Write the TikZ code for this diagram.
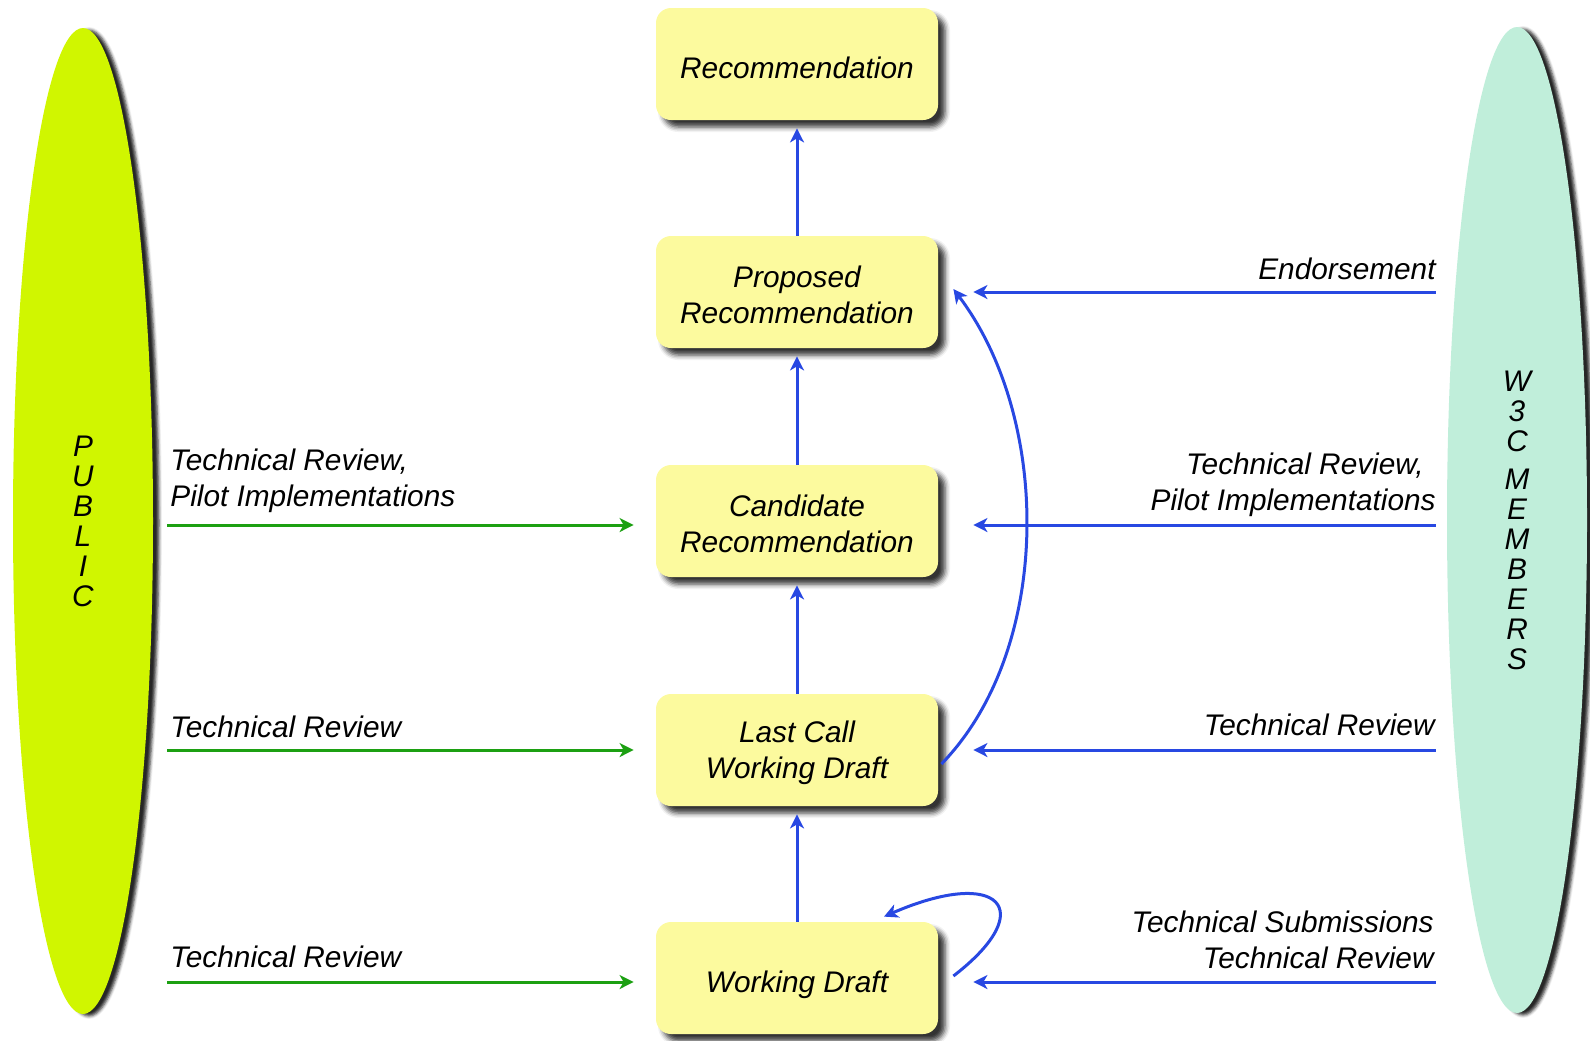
\documentclass[tikz,border=0pt]{standalone}
\usepackage{fontspec}
\setmainfont{Liberation Sans}
\usetikzlibrary{shapes.geometric,shadows.blur,arrows.meta,calc}
\definecolor{boxfill}{RGB}{252,250,158}
\definecolor{pubfill}{RGB}{208,246,0}
\definecolor{memfill}{RGB}{192,238,218}
\definecolor{arrblue}{RGB}{40,72,226}
\definecolor{arrgreen}{RGB}{28,160,18}
\newcommand{\topfix}{\rule{0pt}{13.6pt}}
\begin{document}
\begin{tikzpicture}[x=0.5pt,y=-0.5pt,
  font=\fontsize{14.9}{18}\selectfont\itshape,
  stage/.style={fill=boxfill, rounded corners=7.5pt, minimum width=141pt,
    minimum height=56pt, align=center, inner sep=0pt,
    font=\fontsize{14.9}{18.2}\selectfont\itshape,
    blur shadow={shadow xshift=3.5pt, shadow yshift=-3.5pt,
      shadow blur radius=2.5pt, shadow opacity=80}},
  oneline/.style={text height=14.4pt, text depth=0pt},
  side/.style={ellipse, minimum width=70pt, minimum height=493pt, inner sep=0pt,
    align=center, font=\fontsize{14.9}{15}\selectfont\itshape,
    blur shadow={shadow xshift=3pt, shadow yshift=-1pt,
      shadow blur radius=1.5pt, shadow opacity=85}},
  lbl/.style={inner sep=0pt},
  tipstyle/.style={-{Stealth[length=7pt,width=7pt,inset=2pt]}},
  bluearr/.style={tipstyle, draw=arrblue, line width=1.5pt},
  greenarr/.style={tipstyle, draw=arrgreen, line width=1.5pt}]
\useasboundingbox (0,0) rectangle (1590,1040);

% side ellipses
\node[side, fill=pubfill] (pub) at (83,521) {P\\U\\B\\L\\I\\C};
\node[side, fill=memfill] (mem) at (1517,520) {W\\3\\C\\[4pt]M\\E\\M\\B\\E\\R\\S};

% stages
\node[stage, oneline] (rec)  at (797,64)  {Recommendation};
\node[stage] (prop) at (797,292) {\topfix Proposed\\Recommendation};
\node[stage] (cand) at (797,521) {\topfix Candidate\\Recommendation};
\node[stage] (lc)   at (797,750) {\topfix Last Call\\Working Draft};
\node[stage, oneline] (wd)   at (797,978) {Working Draft};

% vertical progression
\draw[bluearr, shorten >=4pt] (prop.north) -- (rec.south);
\draw[bluearr, shorten >=4pt] (cand.north) -- (prop.south);
\draw[bluearr, shorten >=4pt] (lc.north) -- (cand.south);
\draw[bluearr, shorten >=4pt] (wd.north) -- (lc.south);

% public inputs
\draw[greenarr, shorten <=7pt, shorten >=11pt] ([yshift=-2pt]pub.east |- cand.west) -- ([yshift=-2pt]cand.west);
\draw[greenarr, shorten <=7pt, shorten >=11pt] (pub.east |- lc.west) -- (lc.west);
\draw[greenarr, shorten <=7pt, shorten >=11pt] ([yshift=-2pt]pub.east |- wd.west) -- ([yshift=-2pt]wd.west);

% member inputs
\draw[bluearr, shorten <=5.5pt, shorten >=17.5pt] (mem.west |- prop.east) -- (prop.east);
\draw[bluearr, shorten <=5.5pt, shorten >=17.5pt] ([yshift=-2pt]mem.west |- cand.east) -- ([yshift=-2pt]cand.east);
\draw[bluearr, shorten <=5.5pt, shorten >=17.5pt] (mem.west |- lc.east) -- (lc.east);
\draw[bluearr, shorten <=5.5pt, shorten >=17.5pt] ([yshift=-2pt]mem.west |- wd.east) -- ([yshift=-2pt]wd.east);

% skip from last call to proposed
\draw[bluearr] ([shift={(3,14)}]lc.east) .. controls +(111,-114) and +(99,131) .. ([shift={(15,-3)}]prop.east);
% working draft self loop
\draw[bluearr] ([shift={(15,-2)}]wd.east) .. controls +(87,-67) and +(115,-50) .. ([shift={(87,-5)}]wd.north);

% labels left
\node[lbl, anchor=base west, align=left] (l3) at (170,506) {Technical Review,\\Pilot Implementations};
\node[lbl, anchor=base west] (l4) at (170,737) {Technical Review};
\node[lbl, anchor=base west] (l5) at (170,967) {Technical Review};

% labels right
\node[lbl, anchor=base east] (r2) at (1436,279) {Endorsement};
\node[lbl, anchor=base east, align=right] (r3) at (1436,510) {Technical Review,\hspace*{6pt}\\Pilot Implementations};
\node[lbl, anchor=base east] (r4) at (1435,735) {Technical Review};
\node[lbl, anchor=base east, align=right] (r5) at (1434,968) {Technical Submissions\\Technical Review};
\end{tikzpicture}
\end{document}
